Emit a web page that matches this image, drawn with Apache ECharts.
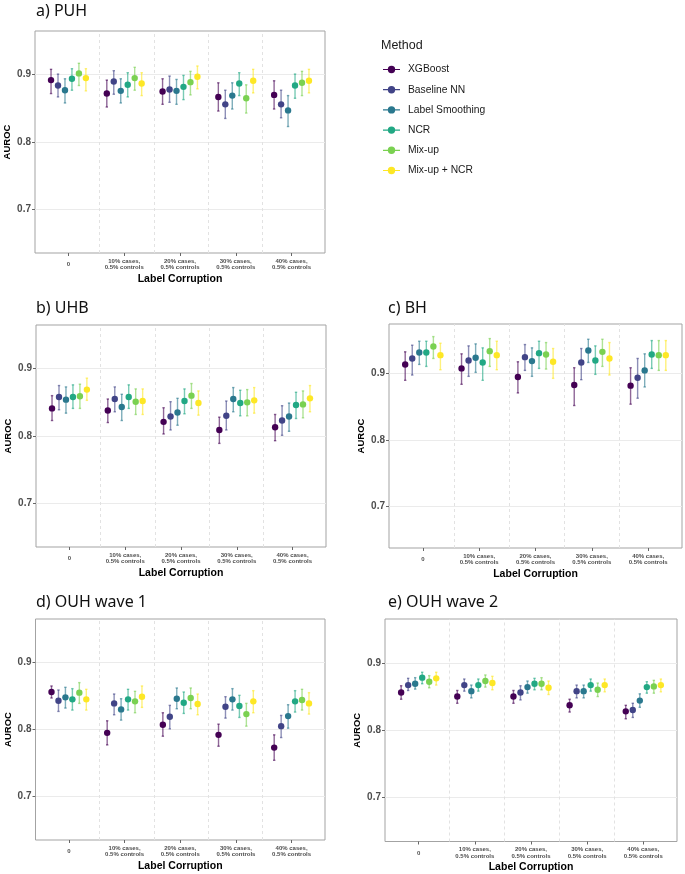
<!DOCTYPE html>
<html>
<head>
<meta charset="utf-8">
<script src="https://cdn.jsdelivr.net/npm/echarts@6/dist/echarts.min.js"></script>
<style>
html,body{margin:0;padding:0;background:#fff;}
#chart{width:685px;height:874px;}
</style>
</head>
<body>
<div id="chart"></div>
<script>
// ---- Data (rows = label-corruption level, columns = method) ----
const categories = ['0', '10% cases,\n0.5% controls', '20% cases,\n0.5% controls', '30% cases,\n0.5% controls', '40% cases,\n0.5% controls'];
const methods = ['XGBoost', 'Baseline NN', 'Label Smoothing', 'NCR', 'Mix-up', 'Mix-up + NCR'];
const methodColors = ['#440154', '#414487', '#2A788E', '#22A884', '#7AD151', '#FDE725'];
const yTicks = [0.7, 0.8, 0.9];
const separators = [1.55, 2.53, 3.51, 4.48];

const puhMean = [[0.892,0.884,0.877,0.894,0.902,0.895],[0.872,0.890,0.876,0.885,0.895,0.887],[0.875,0.878,0.876,0.882,0.889,0.897],[0.867,0.856,0.869,0.887,0.865,0.891],[0.870,0.856,0.847,0.884,0.888,0.891]];
const puhLo   = [[0.872,0.867,0.858,0.877,0.884,0.876],[0.852,0.871,0.858,0.867,0.877,0.869],[0.856,0.859,0.856,0.863,0.870,0.879],[0.846,0.835,0.849,0.869,0.843,0.873],[0.849,0.836,0.823,0.865,0.869,0.873]];
const puhHi   = [[0.908,0.901,0.894,0.909,0.917,0.909],[0.892,0.906,0.894,0.903,0.911,0.903],[0.894,0.898,0.893,0.899,0.905,0.913],[0.888,0.877,0.888,0.903,0.885,0.908],[0.891,0.877,0.869,0.901,0.905,0.908]];

const uhbMean = [[0.841,0.858,0.854,0.858,0.859,0.869],[0.838,0.855,0.843,0.858,0.851,0.852],[0.821,0.829,0.835,0.852,0.860,0.849],[0.809,0.830,0.855,0.849,0.850,0.853],[0.813,0.823,0.829,0.846,0.847,0.856]];
const uhbLo   = [[0.823,0.839,0.834,0.841,0.841,0.853],[0.820,0.836,0.823,0.841,0.832,0.832],[0.803,0.809,0.816,0.833,0.841,0.831],[0.789,0.809,0.836,0.830,0.830,0.834],[0.793,0.801,0.807,0.826,0.827,0.836]];
const uhbHi   = [[0.860,0.875,0.873,0.876,0.877,0.886],[0.855,0.873,0.862,0.876,0.870,0.870],[0.842,0.851,0.856,0.870,0.878,0.867],[0.828,0.852,0.872,0.868,0.869,0.872],[0.832,0.845,0.849,0.865,0.867,0.875]];

const bhMean = [[0.914,0.923,0.932,0.932,0.941,0.928],[0.908,0.920,0.924,0.917,0.934,0.928],[0.895,0.925,0.919,0.931,0.929,0.918],[0.883,0.917,0.935,0.920,0.933,0.923],[0.882,0.894,0.905,0.929,0.928,0.928]];
const bhLo   = [[0.890,0.898,0.914,0.911,0.923,0.906],[0.884,0.896,0.902,0.890,0.911,0.906],[0.871,0.905,0.896,0.908,0.907,0.893],[0.852,0.891,0.917,0.899,0.911,0.898],[0.854,0.863,0.880,0.908,0.905,0.905]];
const bhHi   = [[0.933,0.943,0.949,0.949,0.956,0.946],[0.930,0.942,0.945,0.939,0.953,0.949],[0.918,0.944,0.939,0.949,0.947,0.938],[0.909,0.938,0.952,0.942,0.952,0.947],[0.909,0.923,0.930,0.950,0.950,0.950]];

const ouh1Mean = [[0.856,0.843,0.848,0.845,0.855,0.845],[0.795,0.839,0.830,0.845,0.842,0.849],[0.807,0.819,0.846,0.840,0.847,0.838],[0.792,0.834,0.845,0.835,0.823,0.842],[0.773,0.805,0.820,0.842,0.844,0.839]];
const ouh1Lo   = [[0.847,0.827,0.832,0.829,0.839,0.829],[0.777,0.822,0.814,0.829,0.825,0.833],[0.790,0.801,0.831,0.824,0.831,0.822],[0.775,0.817,0.829,0.818,0.805,0.825],[0.754,0.788,0.802,0.826,0.829,0.823]];
const ouh1Hi   = [[0.865,0.859,0.863,0.861,0.870,0.860],[0.813,0.853,0.846,0.860,0.857,0.865],[0.825,0.836,0.862,0.856,0.862,0.853],[0.808,0.849,0.861,0.851,0.839,0.858],[0.792,0.821,0.837,0.858,0.860,0.855]];

const ouh2Mean = [[0.856,0.867,0.869,0.878,0.872,0.877],[0.850,0.867,0.858,0.867,0.873,0.870],[0.850,0.856,0.864,0.869,0.869,0.863],[0.837,0.858,0.858,0.867,0.860,0.867],[0.828,0.830,0.844,0.864,0.865,0.867]];
const ouh2Lo   = [[0.846,0.859,0.861,0.869,0.863,0.867],[0.840,0.858,0.848,0.858,0.864,0.860],[0.840,0.845,0.855,0.860,0.860,0.853],[0.827,0.848,0.848,0.858,0.850,0.857],[0.817,0.819,0.834,0.855,0.855,0.857]];
const ouh2Hi   = [[0.866,0.877,0.878,0.886,0.881,0.886],[0.859,0.876,0.867,0.876,0.882,0.880],[0.859,0.866,0.873,0.877,0.878,0.873],[0.846,0.867,0.867,0.876,0.870,0.876],[0.837,0.840,0.854,0.872,0.874,0.876]];

// ---- Layout ----
const panels = [
  {title:'a) PUH',        mean:puhMean,  lo:puhLo,  hi:puhHi,  grid:{left:35,  top:31,  width:290,   height:222}, yMin:0.635, yMax:0.965, titlePos:{left:36,  top:3}},
  {title:'b) UHB',        mean:uhbMean,  lo:uhbLo,  hi:uhbHi,  grid:{left:36,  top:325, width:290,   height:222}, yMin:0.635, yMax:0.965, titlePos:{left:36,  top:300.5}},
  {title:'c) BH',         mean:bhMean,   lo:bhLo,   hi:bhHi,   grid:{left:389, top:324, width:293,   height:224}, yMin:0.637, yMax:0.975, titlePos:{left:388, top:300}},
  {title:'d) OUH wave 1', mean:ouh1Mean, lo:ouh1Lo, hi:ouh1Hi, grid:{left:35.5,top:619, width:289.5, height:221}, yMin:0.635, yMax:0.965, titlePos:{left:36,  top:594}},
  {title:'e) OUH wave 2', mean:ouh2Mean, lo:ouh2Lo, hi:ouh2Hi, grid:{left:385, top:619, width:292,   height:223}, yMin:0.635, yMax:0.965, titlePos:{left:388, top:594}}
];
const dodgeStep = 0.125;
const FONT = 'Liberation Sans';

function renderPointRange(params, api) {
  const x = api.value(0);
  const p = api.coord([x, api.value(1)]);
  const lo = api.coord([x, api.value(2)]);
  const hi = api.coord([x, api.value(3)]);
  const color = api.visual('color');
  const barStyle = {stroke: color, lineWidth: 1.4, opacity: 0.6};
  return {
    type: 'group',
    children: [
      {type:'line', shape:{x1:p[0], y1:lo[1], x2:p[0], y2:hi[1]}, style:barStyle},
      {type:'line', shape:{x1:p[0]-1.2, y1:lo[1], x2:p[0]+1.2, y2:lo[1]}, style:barStyle},
      {type:'line', shape:{x1:p[0]-1.2, y1:hi[1], x2:p[0]+1.2, y2:hi[1]}, style:barStyle},
      {type:'circle', shape:{cx:p[0], cy:p[1], r:3.2}, style:{fill:color}}
    ]
  };
}

const grids = [], xAxes = [], yAxes = [], series = [], titles = [];
panels.forEach((pn, pi) => {
  grids.push(Object.assign({show:true, borderColor:'#a3a3a3', borderWidth:1, backgroundColor:'#fff', containLabel:false}, pn.grid));
  titles.push({text:pn.title, left:pn.titlePos.left, top:pn.titlePos.top, padding:0,
    textStyle:{fontFamily:'Noto Sans', fontSize:16, fontWeight:'normal', color:'#111'}});
  xAxes.push({
    type:'value', gridIndex:pi, min:0.4, max:5.6,
    axisLine:{show:false}, splitLine:{show:false},
    axisTick:{show:true, customValues:[1,2,3,4,5], length:3, lineStyle:{color:'#666'}},
    axisLabel:{customValues:[1,2,3,4,5], formatter:(v)=>categories[Math.round(v)-1],
      fontFamily:FONT, fontSize:6, fontWeight:'bold', color:'#4d4d4d', lineHeight:6.5, verticalAlign:'middle', margin:11.5},
    name:'Label Corruption', nameLocation:'middle', nameGap:20.5,
    nameTextStyle:{fontFamily:FONT, fontSize:10.5, fontWeight:'bold', color:'#000'}
  });
  yAxes.push({
    type:'value', gridIndex:pi, min:pn.yMin, max:pn.yMax,
    axisLine:{show:false},
    axisTick:{show:true, customValues:yTicks, length:3, lineStyle:{color:'#666'}},
    axisLabel:{customValues:yTicks, formatter:(v)=>v.toFixed(1), fontFamily:FONT, fontSize:10, fontWeight:'bold', color:'#4d4d4d', margin:4},
    splitLine:{show:true, lineStyle:{color:'#ebebeb', width:1}},
    name:'AUROC', nameLocation:'middle', nameGap:22.5,
    nameTextStyle:{fontFamily:FONT, fontSize:9.5, fontWeight:'bold', color:'#000'}
  });
  // dashed separators between corruption levels
  series.push({
    type:'line', name:'sep'+pi, xAxisIndex:pi, yAxisIndex:pi, data:[], silent:true,
    markLine:{symbol:'none', silent:true, animation:false, label:{show:false},
      lineStyle:{type:[3,3], color:'#e2e2e2', width:1},
      data:separators.map(s=>({xAxis:s}))}
  });
  methods.forEach((m, mi) => {
    series.push({
      type:'custom', name:m, xAxisIndex:pi, yAxisIndex:pi,
      itemStyle:{color:methodColors[mi]},
      renderItem:renderPointRange,
      encode:{x:0, y:1},
      data:categories.map((c, ci) => [ci + 1 + (mi - 2.5) * dodgeStep, pn.mean[ci][mi], pn.lo[ci][mi], pn.hi[ci][mi]]),
      z:3
    });
  });
});

titles.push({text:'Method', left:381, top:39, padding:0,
  textStyle:{fontFamily:FONT, fontSize:12.5, fontWeight:'normal', color:'#1a1a1a'}});

const legendIcon = 'path://M0,4.4H17V5.6H0Z M4.8,5A3.7,3.7 0 1 1 12.2,5A3.7,3.7 0 1 1 4.8,5Z';

const option = {
  animation:false,
  backgroundColor:'#fff',
  textStyle:{fontFamily:FONT},
  title:titles,
  legend:{
    orient:'vertical', left:383, top:63.5, padding:0,
    itemWidth:17, itemHeight:7.4, itemGap:8.2,
    data:methods.map(m=>({name:m, icon:legendIcon})),
    textStyle:{fontFamily:FONT, fontSize:10.3, color:'#1a1a1a', lineHeight:12, padding:[0,0,0,3]},
    selectedMode:false
  },
  grid:grids, xAxis:xAxes, yAxis:yAxes, series:series
};

const chart = echarts.init(document.getElementById('chart'), null, {renderer:'canvas'});
chart.setOption(option);
</script>
</body>
</html>
